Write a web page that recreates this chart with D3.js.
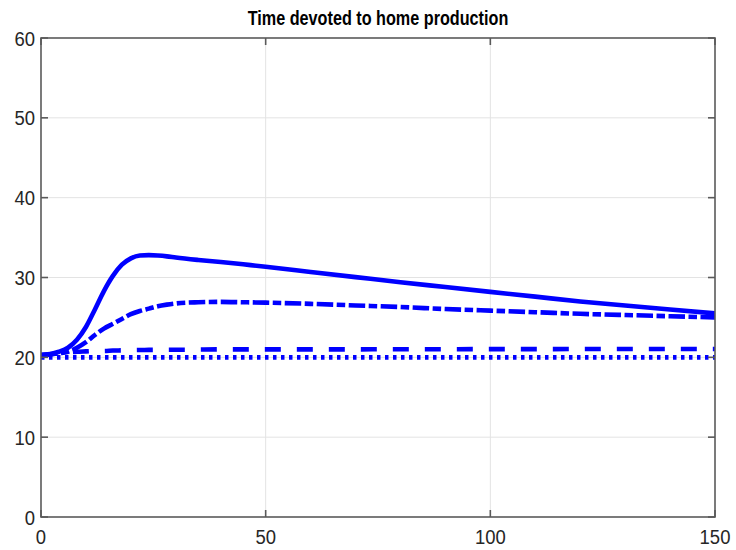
<!DOCTYPE html>
<html>
<head>
<meta charset="utf-8">
<script src="https://cdn.jsdelivr.net/npm/d3@7"></script>
<style>
  body { margin: 0; background: #fff; }
  svg { display: block; }
</style>
</head>
<body>
<script>
// ---- data ----
const titleText = "Time devoted to home production";
const periods = [0, 2, 4, 6, 8, 10, 12, 14, 16, 18, 20, 22, 24, 26, 28, 30, 35, 40, 45, 50, 60, 70, 80, 90, 100, 110, 120, 130, 140, 150];
const seriesSolid = [20.3, 20.4, 20.7, 21.2, 22.2, 23.8, 26.0, 28.3, 30.2, 31.6, 32.4, 32.75, 32.8, 32.75, 32.65, 32.5, 32.2, 31.95, 31.65, 31.35, 30.7, 30.05, 29.4, 28.8, 28.2, 27.6, 27.0, 26.5, 26.0, 25.5];
const seriesDashDot = [20.3, 20.35, 20.5, 20.7, 21.2, 21.9, 22.8, 23.6, 24.2, 24.8, 25.4, 25.8, 26.1, 26.4, 26.6, 26.75, 26.9, 26.95, 26.9, 26.85, 26.7, 26.5, 26.3, 26.05, 25.85, 25.65, 25.45, 25.3, 25.15, 25.0];
const seriesDashed = [20.3, 20.4, 20.5, 20.6, 20.7, 20.75, 20.8, 20.8, 20.85, 20.87, 20.9, 20.92, 20.93, 20.94, 20.95, 20.95, 20.97, 21.0, 21.0, 21.0, 21.0, 21.0, 21.02, 21.02, 21.03, 21.03, 21.04, 21.05, 21.05, 21.05];
const seriesDotted = [20.0, 20.0, 20.0, 20.0, 20.0, 20.0, 20.0, 20.0, 20.0, 20.0, 20.0, 20.0, 20.0, 20.0, 20.0, 20.0, 20.0, 20.0, 20.0, 20.0, 20.0, 20.0, 20.0, 20.0, 20.0, 20.0, 20.0, 20.0, 20.0, 20.0];
const xTicks = [0, 50, 100, 150];
const yTicks = [0, 10, 20, 30, 40, 50, 60];

// ---- layout ----
const W = 736, H = 550;
const m = { left: 41, right: 21, top: 38, bottom: 33 };
const iw = W - m.left - m.right, ih = H - m.top - m.bottom;

const svg = d3.select("body").append("svg").attr("width", W).attr("height", H);
const g = svg.append("g").attr("transform", `translate(${m.left},${m.top})`);

const x = d3.scaleLinear().domain([0, 150]).range([0, iw]);
const y = d3.scaleLinear().domain([0, 60]).range([ih, 0]);

// grid
g.append("g").selectAll("line").data(xTicks.slice(1, -1)).join("line")
  .attr("x1", d => x(d)).attr("x2", d => x(d)).attr("y1", 0).attr("y2", ih)
  .attr("stroke", "#e3e3e3").attr("stroke-width", 1);
g.append("g").selectAll("line").data(yTicks.slice(1, -1)).join("line")
  .attr("y1", d => y(d)).attr("y2", d => y(d)).attr("x1", 0).attr("x2", iw)
  .attr("stroke", "#e3e3e3").attr("stroke-width", 1);

// series
const line = d3.line().x((d, i) => x(periods[i])).y(d => y(d)).curve(d3.curveMonotoneX);
const series = [
  { v: seriesSolid, dash: null },
  { v: seriesDashed, dash: "16,16" },
  { v: seriesDashDot, dash: "16.5,3.5,8.5,3.5" },
  { v: seriesDotted, dash: "3.5,4.5" }
];
const clip = svg.append("clipPath").attr("id", "c").append("rect")
  .attr("x", 0).attr("y", 0).attr("width", iw).attr("height", ih);
const lg = g.append("g").attr("clip-path", "url(#c)");
series.forEach(s => {
  lg.append("path").datum(s.v).attr("d", line)
    .attr("fill", "none").attr("stroke", "#0000ff").attr("stroke-width", 4.6)
    .attr("stroke-dasharray", s.dash).attr("stroke-linejoin", "round");
});

// axes (box, inward ticks on all sides)
const axCol = "#5a5a5a";
const tl = 7;
const ax = g.append("g").attr("stroke", axCol).attr("stroke-width", 1.6).attr("fill", "none");
ax.append("rect").attr("x", 0).attr("y", 0).attr("width", iw).attr("height", ih);
xTicks.forEach(t => {
  ax.append("line").attr("x1", x(t)).attr("x2", x(t)).attr("y1", ih).attr("y2", ih - tl);
  ax.append("line").attr("x1", x(t)).attr("x2", x(t)).attr("y1", 0).attr("y2", tl);
});
yTicks.forEach(t => {
  ax.append("line").attr("y1", y(t)).attr("y2", y(t)).attr("x1", 0).attr("x2", tl);
  ax.append("line").attr("y1", y(t)).attr("y2", y(t)).attr("x1", iw).attr("x2", iw - tl);
});

const font = "'Liberation Sans', Arial, Helvetica, sans-serif";
const sx = 0.88;
// x tick labels
g.append("g").selectAll("text").data(xTicks).join("text")
  .attr("transform", d => `translate(${x(d)},${ih + 27}) scale(${sx},1)`)
  .attr("text-anchor", "middle").attr("font-family", font).attr("font-size", 21)
  .attr("fill", "#262626").text(d => d);
// y tick labels
g.append("g").selectAll("text").data(yTicks).join("text")
  .attr("transform", d => `translate(-6,${y(d) + 7.5}) scale(${sx},1)`)
  .attr("text-anchor", "end").attr("font-family", font).attr("font-size", 21)
  .attr("fill", "#262626").text(d => d);

// title
svg.append("text")
  .attr("transform", `translate(${m.left + iw / 2},${m.top - 13}) scale(0.81,1)`)
  .attr("text-anchor", "middle").attr("font-family", font).attr("font-size", 20)
  .attr("font-weight", "bold").attr("fill", "#000").text(titleText);
</script>
</body>
</html>
